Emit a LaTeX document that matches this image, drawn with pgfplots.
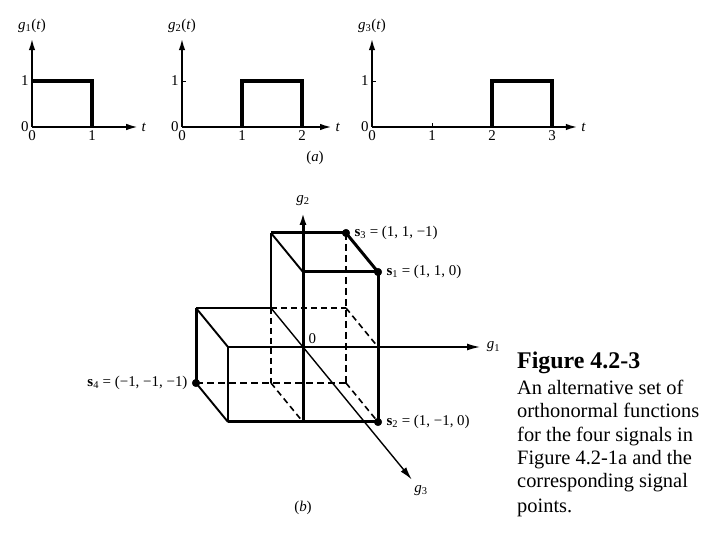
\documentclass[border=0pt]{standalone}
\usepackage{fontspec}
\setmainfont{Liberation Serif}
\usepackage{pgfplots}
\pgfplotsset{compat=1.18}
\usetikzlibrary{arrows.meta}

\newcommand{\lbl}{\fontsize{15}{17}\selectfont}

\pgfplotsset{
  sig/.style={
    axis lines=left,
    axis line style={line width=2bp, -{Latex[length=12bp,width=6.5bp]}},
    x=60bp, y=46bp, xmin=0, ymin=0, ymax=1.93,
    anchor=origin, clip=false,
    ytick={0,1},
    tick style={black, line width=0.9bp}, major tick length=4bp, tick align=inside,
    tick label style={font=\lbl},
    /pgf/number format/assume math mode=true,
  },
  rect/.style={black, line width=3.6bp, no marks},
  thk/.style={black, line width=3bp, no marks},
  thn/.style={black, line width=1.4bp, no marks},
  dia/.style={black, line width=1.9bp, no marks},
  thkd/.style={black, line width=2.7bp, no marks, dash pattern=on 7bp off 4bp},
  thnd/.style={black, line width=1.6bp, no marks, dash pattern=on 6bp off 4bp},
}

\begin{document}
\begin{tikzpicture}
\useasboundingbox (0,0) rectangle (720bp,540bp);

% ---------- (a) g1 ----------
\begin{axis}[sig, at={(32bp,413bp)}, xmax=1.77, xtick={0,1}]
\addplot[rect] coordinates {(0,1) (1,1) (1,0)};
\node[anchor=west, font=\lbl] at (axis cs:1.77,0) {\textit{t}};
\node[font=\lbl] at (axis cs:0,2.2) {\textit{g}\textsubscript{1}(\textit{t})};
\end{axis}

% ---------- (a) g2 ----------
\begin{axis}[sig, at={(182bp,413bp)}, xmax=2.5, xtick={0,1,2}]
\addplot[rect] coordinates {(1,0) (1,1) (2,1) (2,0)};
\node[anchor=west, font=\lbl] at (axis cs:2.5,0) {\textit{t}};
\node[font=\lbl] at (axis cs:0,2.2) {\textit{g}\textsubscript{2}(\textit{t})};
\end{axis}

% ---------- (a) g3 ----------
\begin{axis}[sig, at={(372bp,413bp)}, xmax=3.43, xtick={0,1,2,3}]
\addplot[rect] coordinates {(2,0) (2,1) (3,1) (3,0)};
\node[anchor=west, font=\lbl] at (axis cs:3.43,0) {\textit{t}};
\node[font=\lbl] at (axis cs:0,2.2) {\textit{g}\textsubscript{3}(\textit{t})};
\end{axis}

\node[font=\lbl] at (315bp,382bp) {(\textit{a})};

% ---------- (b) signal space ----------
\begin{axis}[
  x={(75bp,0bp)}, y={(0bp,75bp)}, z={(32bp,-39bp)},
  xmin=-1, xmax=2.4, ymin=-1, ymax=1.9, zmin=-1, zmax=3.5,
  hide axis, clip=false, anchor=origin, at={(303bp,193bp)},
]
% axes
\addplot3[thn, -{Latex[length=13bp,width=7bp]}] coordinates {(-1,0,0) (2.36,0,0)};
\addplot3[thk, -{Latex[length=13bp,width=7bp]}] coordinates {(0,-1,0) (0,1.8,0)};
\addplot3[thn, -{Latex[length=13bp,width=7bp]}] coordinates {(0,0,-1) (0,0,3.4)};
% thick solid edges
\addplot3[thk] coordinates {(0,1,-1) (1,1,-1)};
\addplot3[dia] coordinates {(0,1,-1) (0,1,0)};
\addplot3[thk] coordinates {(0,1,0) (1,1,0)};
\addplot3[thk] coordinates {(1,1,-1) (1,1,0)};
\addplot3[thk] coordinates {(1,1,0) (1,-1,0)};
\addplot3[thk] coordinates {(-1,-1,0) (1,-1,0)};
\addplot3[thk] coordinates {(-1,0,-1) (-1,-1,-1)};
% thin solid edges
\addplot3[thn] coordinates {(0,1,-1) (0,0,-1)};
\addplot3[thn] coordinates {(-1,0,-1) (0,0,-1)};
\addplot3[dia] coordinates {(-1,0,-1) (-1,0,0)};
\addplot3[thn] coordinates {(-1,0,0) (-1,-1,0)};
\addplot3[dia] coordinates {(-1,-1,-1) (-1,-1,0)};
% dashed thick
\addplot3[thkd] coordinates {(1,1,-1) (1,-1,-1)};
\addplot3[thkd] coordinates {(-1,-1,-1) (1,-1,-1)};
% dashed thin
\addplot3[thnd] coordinates {(0,0,-1) (0,-1,-1)};
\addplot3[thnd] coordinates {(0,0,-1) (1,0,-1)};
\addplot3[thnd] coordinates {(1,0,-1) (1,0,0)};
\addplot3[thnd] coordinates {(0,-1,-1) (0,-1,0)};
\addplot3[thnd] coordinates {(1,-1,-1) (1,-1,0)};
% signal points
\addplot3[only marks, mark=*, mark size=3.8bp, black] coordinates {(1,1,0) (1,-1,0) (1,1,-1) (-1,-1,-1)};
% labels
\node[font=\lbl] at (axis cs:0,1.95,0) {\textit{g}\textsubscript{2}};
\node[font=\lbl] at (axis cs:2.54,0,0) {\textit{g}\textsubscript{1}};
\node[font=\lbl] at (axis cs:0,0,3.69) {\textit{g}\textsubscript{3}};
\node[font=\lbl, anchor=south west, inner sep=1bp] at (axis cs:0.06,0.03,0) {0};
\node[font=\lbl, anchor=west, xshift=5bp] at (axis cs:1,1,-1) {\textbf{s}\textsubscript{3} = (1, 1, −1)};
\node[font=\lbl, anchor=west, xshift=5bp] at (axis cs:1,1,0) {\textbf{s}\textsubscript{1} = (1, 1, 0)};
\node[font=\lbl, anchor=west, xshift=5bp] at (axis cs:1,-1,0) {\textbf{s}\textsubscript{2} = (1, −1, 0)};
\node[font=\lbl, anchor=east, xshift=-5bp] at (axis cs:-1,-1,-1) {\textbf{s}\textsubscript{4} = (−1, −1, −1)};
\end{axis}

\node[font=\lbl] at (303bp,32bp) {(\textit{b})};

% ---------- caption ----------
\begin{scope}[every node/.style={anchor=base west, inner sep=0pt}]
\node[font=\fontsize{24}{28}\selectfont\bfseries] at (517bp,171bp) {Figure 4.2-3};
\node[font=\fontsize{20.5}{24}\selectfont] at (517bp,145bp) {An alternative set of};
\node[font=\fontsize{20.5}{24}\selectfont] at (517bp,122bp) {orthonormal functions};
\node[font=\fontsize{20.5}{24}\selectfont] at (517bp,98bp) {for the four signals in};
\node[font=\fontsize{20.5}{24}\selectfont] at (517bp,75bp) {Figure 4.2-1a and the};
\node[font=\fontsize{20.5}{24}\selectfont] at (517bp,52bp) {corresponding signal};
\node[font=\fontsize{20.5}{24}\selectfont] at (517bp,28bp) {points.};
\end{scope}
\end{tikzpicture}
\end{document}
